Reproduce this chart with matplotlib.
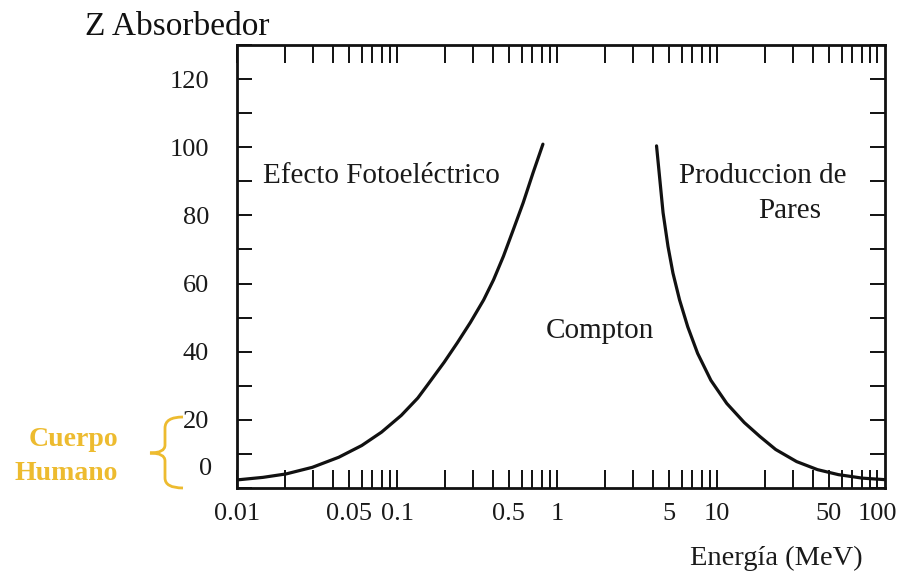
import numpy as np
import matplotlib
matplotlib.use('Agg')
import matplotlib.pyplot as plt
from matplotlib.ticker import FixedLocator, LogLocator, MultipleLocator, NullFormatter
from matplotlib.path import Path
from matplotlib.patches import PathPatch
import matplotlib.transforms as mtransforms

plt.rcParams['font.family'] = ['Liberation Serif', 'DejaVu Serif']

# Frontera fotoeléctrico / Compton (energía en MeV, Z del absorbedor)
e_foto = [0.01, 0.0104, 0.01453, 0.02027, 0.02958, 0.04323, 0.0602, 0.0800,
          0.1063, 0.1348, 0.1554, 0.197, 0.238, 0.2875, 0.3478, 0.401,
          0.4622, 0.5328, 0.6141, 0.7079, 0.816]
z_foto = [2.4, 2.45, 3.12, 4.13, 6.07, 9.02, 12.47, 16.39,
          21.31, 26.4, 30.3, 36.9, 42.6, 48.6, 55.2, 61.1,
          68.0, 75.8, 83.7, 92.5, 100.9]

# Frontera Compton / producción de pares
e_pares = [4.184, 4.385, 4.596, 4.934, 5.297, 5.827, 6.556, 7.558, 9.145,
           11.5, 14.79, 18.53, 23.23, 31.4, 42.4, 57.3, 81.0, 112.0]
z_pares = [100.4, 90.6, 80.8, 70.9, 63.1, 55.2, 47.3, 39.5, 31.6,
           24.8, 19.2, 15.1, 11.3, 7.75, 5.39, 3.92, 2.89, 2.45]

x_ticks = [0.01, 0.05, 0.1, 0.5, 1, 5, 10, 50, 100]
x_labels = ['0.01', '0.05', '0.1', '0.5', '1', '5', '10', '50', '100']
y_ticks = [0, 20, 40, 60, 80, 100, 120]
y_labels = ['', '20', '40', '60', '80', '100', '120']

W, H = 899, 573
fig = plt.figure(figsize=(W / 100, H / 100), dpi=100)
ax = fig.add_axes([237 / W, 1 - 488 / H, 648 / W, 443 / H])

ax.plot(e_foto, z_foto, color='#111111', lw=2.3, solid_capstyle='round')
ax.plot(e_pares, z_pares, color='#111111', lw=2.3, solid_capstyle='round')

ax.set_xscale('log')
ax.set_xlim(0.01, 112)
ax.set_ylim(0, 130)

ax.xaxis.set_major_locator(FixedLocator(x_ticks))
ax.set_xticklabels(x_labels)
ax.xaxis.set_minor_locator(LogLocator(base=10, subs=np.arange(2, 10)))
ax.xaxis.set_minor_formatter(NullFormatter())
ax.yaxis.set_major_locator(FixedLocator(y_ticks))
ax.set_yticklabels(y_labels)
ax.yaxis.set_minor_locator(MultipleLocator(10))

for sp in ax.spines.values():
    sp.set_linewidth(2.0)
    sp.set_color('#111111')

ax.tick_params(axis='x', which='both', direction='in', length=13, width=1.4,
               top=True, bottom=True, color='#111111', pad=11,
               labelsize=19, labelcolor='#1a1a1a')
ax.tick_params(axis='y', which='both', direction='in', length=11, width=1.4,
               left=True, right=True, color='#111111', pad=20,
               labelsize=19, labelcolor='#1a1a1a')

# el "0" va algo más arriba que su marca
off = mtransforms.ScaledTranslation(0, 19 / 100, fig.dpi_scale_trans)
ax.text(-25 / 648, 0, '0', fontsize=19, color='#1a1a1a', ha='right', va='center',
        transform=mtransforms.blended_transform_factory(ax.transAxes, ax.transData) + off)

# rótulos de las regiones
ax.text(0.0145, 91.5, 'Efecto Fotoeléctrico', fontsize=21, ha='left', va='center', color='#1a1a1a')
ax.text(1.84, 46, 'Compton', fontsize=21, ha='center', va='center', color='#1a1a1a')
ax.text(5.8, 91.5, 'Produccion de', fontsize=21, ha='left', va='center', color='#1a1a1a')
ax.text(18.0, 81.4, 'Pares', fontsize=21, ha='left', va='center', color='#1a1a1a')

ax.text(0.966, -0.158, 'Energía (MeV)', transform=ax.transAxes, fontsize=20.5,
        ha='right', va='center', color='#1a1a1a')
fig.text(85 / W, 1 - 27 / H, 'Z Absorbedor', fontsize=24, ha='left', va='center', color='#111111')

# cuerpo humano: llave amarilla junto a Z = 0-20
gold = '#EDBB2F'
fig.text(118 / W, 1 - 440 / H, 'Cuerpo', fontsize=20, fontweight='bold', color=gold,
         ha='right', va='center')
fig.text(118 / W, 1 - 473 / H, 'Humano', fontsize=20, fontweight='bold', color=gold,
         ha='right', va='center')


def px(x, y):
    return (x / W, 1 - y / H)


verts = [px(183, 417), px(165, 417), px(165, 428),
         px(165, 445), px(165, 453), px(150, 453),
         px(165, 453), px(165, 461), px(165, 478),
         px(165, 488), px(183, 488)]
codes = [Path.MOVETO, Path.CURVE3, Path.CURVE3,
         Path.LINETO, Path.CURVE3, Path.CURVE3,
         Path.CURVE3, Path.CURVE3, Path.LINETO,
         Path.CURVE3, Path.CURVE3]
brace = PathPatch(Path(verts, codes), transform=fig.transFigure, fill=False,
                  edgecolor=gold, lw=2.0)
fig.patches.append(brace)

fig.savefig('out.png', dpi=100)
